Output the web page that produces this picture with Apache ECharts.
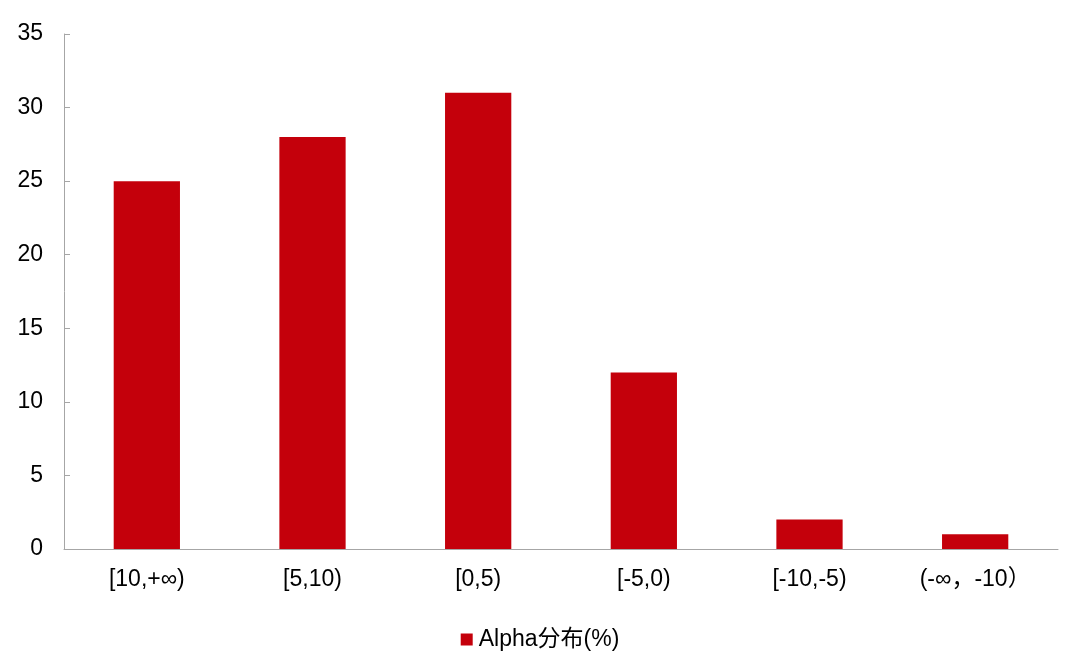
<!DOCTYPE html>
<html><head><meta charset="utf-8">
<script src="https://cdn.jsdelivr.net/npm/echarts@6/dist/echarts.min.js"></script>
<style>html,body{margin:0;padding:0;background:#fff}#c{width:1080px;height:660px}</style>
</head><body><div id="c"></div>
<script>
const categories = ['[10,+∞)', '[5,10)', '[0,5)', '[-5,0)', '[-10,-5)', '(-∞，-10）'];
const seriesName = 'Alpha分布(%)';
const values = [25, 28, 31, 12, 2, 1];

const chart = echarts.init(document.getElementById('c'));
const font = '"Liberation Sans", Arial, "Noto Sans CJK SC", sans-serif';
chart.setOption({
  animation: false,
  textStyle: { fontFamily: font },
  grid: { left: 64, right: 22, top: 34, bottom: 111, containLabel: false },
  legend: {
    top: 623, left: 'center', itemWidth: 12, itemHeight: 12, itemGap: 6,
    icon: 'rect',
    textStyle: { fontSize: 23, color: '#000', fontFamily: font, padding: [0, 0, 0, 1] },
    data: [seriesName]
  },
  xAxis: {
    type: 'category', data: categories,
    axisLine: { lineStyle: { color: '#a6a6a6', width: 1 } },
    axisTick: { inside: true, length: 6, lineStyle: { color: '#a6a6a6' } },
    axisLabel: { fontSize: 23, color: '#000', margin: 19, fontFamily: font }
  },
  yAxis: {
    type: 'value', min: 0, max: 35, interval: 5,
    axisLine: { show: true, lineStyle: { color: '#a6a6a6', width: 1 } },
    axisTick: { show: true, inside: true, length: 6, lineStyle: { color: '#a6a6a6' } },
    splitLine: { show: false },
    axisLabel: { fontSize: 23, color: '#000', margin: 21, fontFamily: font }
  },
  series: [{
    name: seriesName, type: 'bar', data: values, barWidth: '40%',
    itemStyle: { color: '#C4000B' }
  }]
});
</script></body></html>
